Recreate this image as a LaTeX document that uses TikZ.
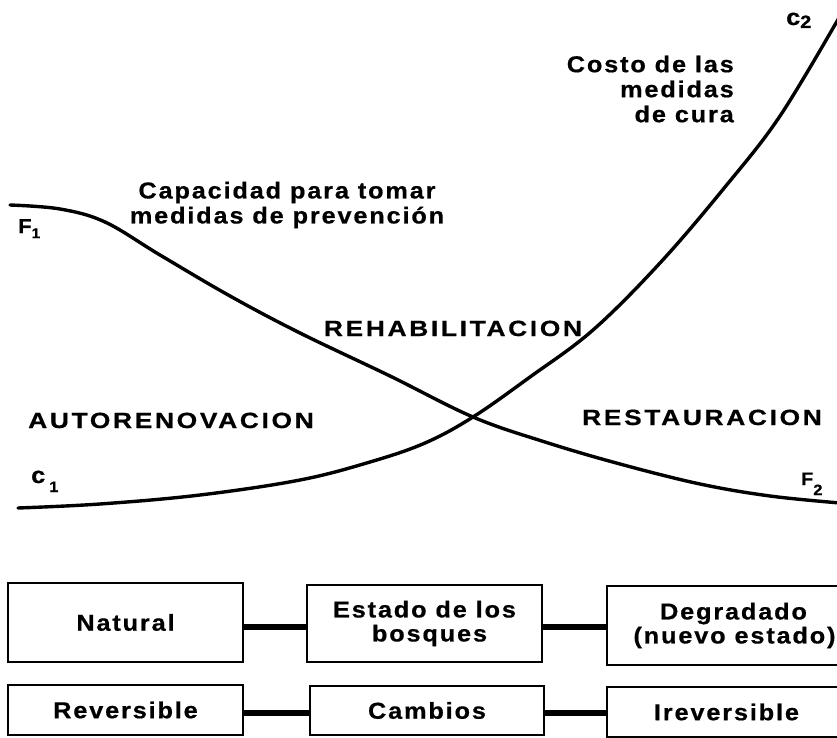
\documentclass[tikz,border=0pt]{standalone}
\usepackage{fontspec}
\setmainfont{Liberation Sans}[FakeStretch=1.1, FakeBold=0.6]
\newfontfamily\capsfont[LetterSpace=12, FakeStretch=1.2, FakeBold=0.6]{Liberation Sans}
\newfontfamily\lowfont[LetterSpace=8, FakeStretch=1.1, FakeBold=0.6]{Liberation Sans}
\begin{document}
\begin{tikzpicture}[x=1pt,y=-1pt,
  curve/.style={line width=3.4pt, line cap=round, line join=round},
  capslabel/.style={font=\capsfont\bfseries\fontsize{22}{24}\selectfont, anchor=base, inner sep=0pt},
  textlabel/.style={font=\lowfont\bfseries\fontsize{23}{25}\selectfont, inner sep=0pt},
  curvelabel/.style={font=\bfseries, anchor=base west, inner sep=0pt},
  box/.style={draw, line width=2.5pt, font=\lowfont\bfseries\fontsize{23}{24}\selectfont, align=center, inner sep=0pt},
  conn/.style={line width=6pt}]
\useasboundingbox (0,0) rectangle (837,738);

% curves
\draw[curve] plot[smooth, tension=0.6] coordinates {(10,205) (60,209) (105,222) (160,255) (230,296) (300,333) (390,376) (473,417) (545,442) (620,464) (700,484) (770,496) (840,503)};
\draw[curve] plot[smooth, tension=0.6] coordinates {(18,508) (100,504) (200,495) (300,480) (370,462) (425,443) (473,417) (530,377) (593,330) (660,263) (725,187) (780,116) (840,16)};

% curve end labels
\node[curvelabel] (f1) at (18,233) {\fontsize{20}{20}\selectfont F\raisebox{-5pt}{\fontsize{14}{14}\selectfont 1}};
\node[curvelabel] (c1) at (31,483) {\fontsize{23}{23}\selectfont c\hspace{4pt}\raisebox{-9pt}{\fontsize{15}{15}\selectfont 1}};
\node[curvelabel] (c2) at (786,25) {\fontsize{23}{23}\selectfont c\raisebox{-3pt}{\fontsize{18}{18}\selectfont 2}};
\node[curvelabel] (f2) at (801,485) {\fontsize{18}{18}\selectfont F\raisebox{-10pt}{\fontsize{15}{15}\selectfont 2}};

% curve descriptions
\node[textlabel, align=center] (prev) at (287,205) {Capacidad para tomar\\medidas de prevención};
\node[textlabel, align=right, anchor=east] (cost) at (734,89) {Costo de las\\medidas\\de cura};

% zone labels
\node[capslabel] (rehab) at (453,336) {REHABILITACION};
\node[capslabel] (auto) at (171,428) {AUTORENOVACION};
\node[capslabel] (rest) at (702,425) {RESTAURACION};

% boxes
\node[box, minimum width=235pt, minimum height=79pt] (b1) at (125.5,622.5) {Natural};
\node[box, minimum width=235pt, minimum height=77pt] (b2) at (424.5,623.5) {Estado de los\\\hspace*{10pt}bosques};
\node[box, minimum width=239pt, minimum height=79pt] (b3) at (726.5,625.5) {\hspace*{14pt}Degradado\\\hspace*{16pt}(nuevo estado)};
\node[box, minimum width=235pt, minimum height=50pt] (r1) at (125.5,710) {Reversible};
\node[box, minimum width=234pt, minimum height=49pt] (r2) at (427,710.5) {Cambios};
\node[box, minimum width=239pt, minimum height=50pt] (r3) at (726.5,712) {Ireversible};

% connectors
\draw[conn] ([yshift=-4.5pt]b1.east) -- ([yshift=-4.5pt]b1.east -| b2.west);
\draw[conn] ([yshift=-3.5pt]b2.east) -- ([yshift=-3.5pt]b2.east -| b3.west);
\draw[conn] ([yshift=-3pt]r1.east) -- ([yshift=-3pt]r1.east -| r2.west);
\draw[conn] ([yshift=-2.5pt]r2.east) -- ([yshift=-2.5pt]r2.east -| r3.west);
\end{tikzpicture}
\end{document}
